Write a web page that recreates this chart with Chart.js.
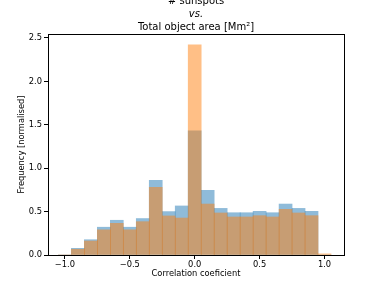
<!DOCTYPE html>
<html>
<head>
<meta charset="utf-8">
<script src="https://cdn.jsdelivr.net/npm/chart.js@4"></script>
<style>
  html, body { margin: 0; padding: 0; background: #fff; }
  #wrap { width: 382px; height: 287px; }
</style>
</head>
<body>
<div id="wrap"><canvas id="canvas" width="382" height="287"></canvas></div>
<script>
// bin centres of the correlation histogram
var binCenters = [-1.0, -0.9, -0.8, -0.7, -0.6, -0.5, -0.4, -0.3, -0.2, -0.1, 0.0,
                  0.1, 0.2, 0.3, 0.4, 0.5, 0.6, 0.7, 0.8, 0.9, 1.0];
// blue histogram (underneath)
var blueFreq = [0, 0.077, 0.176, 0.32, 0.40, 0.32, 0.42, 0.86, 0.50, 0.565, 1.43,
                0.745, 0.537, 0.487, 0.487, 0.503, 0.487, 0.587, 0.537, 0.503, 0];
// orange histogram (on top)
var orangeFreq = [0, 0.066, 0.161, 0.29, 0.365, 0.29, 0.384, 0.78, 0.45, 0.426, 2.42,
                  0.587, 0.484, 0.438, 0.438, 0.453, 0.438, 0.526, 0.484, 0.453, 0.013];
var yTicks = [0, 0.5, 1.0, 1.5, 2.0, 2.5];
var titleLines = ['# sunspots', 'vs.', 'Total object area [Mm\u00b2]'];

var font = 'DejaVu Sans';

function toPoints(vals) {
  return binCenters.map(function(c, i) { return {x: c, y: vals[i]}; });
}

function fmt(v) {
  return (v < 0 ? '\u2212' : '') + Math.abs(v).toFixed(1);
}

var frame = {
  id: 'frame',
  afterDraw: function(chart) {
    var ctx = chart.ctx, a = chart.chartArea;
    ctx.save();
    ctx.strokeStyle = '#000';
    ctx.lineWidth = 1;
    ctx.strokeRect(Math.round(a.left) + 0.5, Math.round(a.top) + 0.5,
                   Math.round(a.right - a.left), Math.round(a.bottom - a.top));
    // title, middle line in italics
    var cx = (a.left + a.right) / 2;
    ctx.fillStyle = '#000';
    ctx.textAlign = 'center';
    ctx.textBaseline = 'alphabetic';
    ctx.font = '10px "' + font + '"';
    ctx.fillText(titleLines[0], cx, 4);
    ctx.font = 'oblique 10px "' + font + '"';
    ctx.fillText(titleLines[1], cx, 17);
    ctx.font = '10px "' + font + '"';
    ctx.fillText(titleLines[2], cx, 30);
    ctx.restore();
  }
};

var ctx = document.getElementById('canvas').getContext('2d');
var config = {
  type: 'bar',
  data: {
    datasets: [{
      data: toPoints(blueFreq),
      backgroundColor: 'rgba(31, 119, 180, 0.5)',
      borderWidth: 0,
      order: 2
    }, {
      data: toPoints(orangeFreq),
      backgroundColor: 'rgba(255, 127, 14, 0.5)',
      borderWidth: 0,
      order: 1
    }]
  },
  options: {
    responsive: false,
    animation: false,
    grouped: false,
    barPercentage: 1,
    categoryPercentage: 1,
    layout: { padding: { left: 0, top: 34, right: 38, bottom: 0 } },
    plugins: {
      legend: { display: false },
      tooltip: { enabled: false }
    },
    scales: {
      x: {
        type: 'linear',
        min: -1.13,
        max: 1.15,
        offset: false,
        grid: { display: true, drawOnChartArea: false, offset: false, tickLength: 4, color: '#000' },
        border: { display: false },
        ticks: {
          stepSize: 0.5,
          includeBounds: false,
          maxRotation: 0,
          padding: 1,
          color: '#000',
          font: { family: font, size: 8.3 },
          callback: function(v) { return fmt(v); }
        },
        title: {
          display: true,
          text: 'Correlation coeficient',
          color: '#000',
          font: { family: font, size: 8.3 },
          padding: { top: 2, bottom: 8 }
        },
        afterFit: function(s) { s.height = 32; }
      },
      y: {
        min: 0,
        max: 2.546,
        grid: { display: true, drawOnChartArea: false, tickLength: 4, color: '#000' },
        border: { display: false },
        afterBuildTicks: function(s) { s.ticks = yTicks.map(function(v) { return {value: v}; }); },
        ticks: {
          padding: 2,
          color: '#000',
          font: { family: font, size: 8.3 },
          callback: function(v) { return fmt(v); }
        },
        title: {
          display: true,
          text: 'Frequency [normalised]',
          color: '#000',
          font: { family: font, size: 8.3 },
          padding: { top: 17, bottom: 0 }
        },
        afterFit: function(s) { s.width = 48; }
      }
    }
  },
  plugins: [frame]
};

var chart = new Chart(ctx, config);
</script>
</body>
</html>
